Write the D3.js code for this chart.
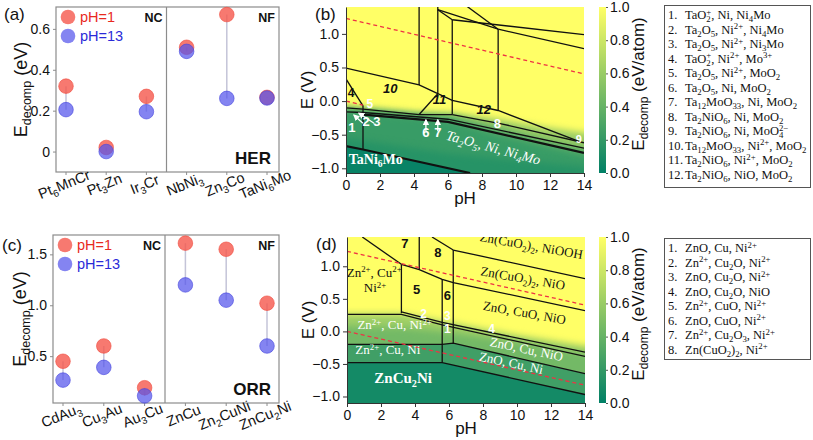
<!DOCTYPE html>
<html><head><meta charset="utf-8">
<script src="https://cdn.jsdelivr.net/npm/d3@7/dist/d3.min.js"></script>
<style>html,body{margin:0;padding:0;background:#fff;}svg{display:block;}</style>
</head><body>
<svg id="fig" width="813" height="440"></svg>
<script>
// ---------------- data ----------------
const herCats  = ["Pt_{6}MnCr","Pt_{3}Zn","Ir_{3}Cr","NbNi_{3}","Zn_{3}Co","TaNi_{6}Mo"];
const herPH1   = [0.32, 0.02, 0.27, 0.51, 0.67, 0.265];
const herPH13  = [0.205, 0.0, 0.195, 0.49, 0.26, 0.262];
const herTicks = [0, 0.2, 0.4, 0.6];

const orrCats  = ["CdAu_{3}","Cu_{3}Au","Au_{3}Cu","ZnCu","Zn_{2}CuNi","ZnCu_{2}Ni"];
const orrPH1   = [0.45, 0.60, 0.19, 1.61, 1.55, 1.02];
const orrPH13  = [0.265, 0.39, 0.11, 1.20, 1.05, 0.60];
const orrTicks = [0.5, 1.0, 1.5];

const pHTicks = [0,2,4,6,8,10,12,14];
const ETicks  = [-1,-0.5,0,0.5,1];
const cbTicks = [0,0.2,0.4,0.6,0.8,1.0];

// Pourbaix boundaries (pH, E) for TaNi6Mo
const herLines = [
  [[0,0.49],[4.3,0.24],[5.4,0.11],[6.25,0.01],[8.95,-0.14],[13.7,-0.6]],
  [[4.3,1.45],[4.3,0.24]],
  [[5.4,1.45],[5.4,0.11]],
  [[6.25,1.21],[6.25,-0.2]],
  [[8.95,1.07],[8.95,-0.14]],
  [[5.4,1.36],[6.25,1.21]],
  [[5.4,1.36],[8.95,1.07],[14,0.78]],
  [[6.9,1.45],[8.95,1.07]],
  [[6.25,1.21],[14,0.99]],
  [[4.3,-0.2],[5.4,0.11]],
  [[4.3,-0.2],[6.25,-0.2]],
  [[0,0.33],[1,-0.07]],
  [[1,-0.07],[1,-0.72]],
  [[0,-0.1],[1,-0.12],[4.3,-0.2]],
  [[6.25,-0.2],[9,-0.33],[14,-0.62]],
  [[0,-0.16],[1,-0.17],[6,-0.27],[14,-0.7]]
];
const herThick = [
  [[1,-0.2],[6,-0.31],[14,-0.77]],
  [[0,-0.67],[1,-0.72],[7.3,-1.07]]
];
const herDashed = [ [[0,1.23],[14,0.404]], [[0,0],[1,-0.059]] ];
const herBandEdges = [
  [[0,-0.08],[1,-0.1],[4.3,-0.17],[6.25,-0.18],[9,-0.27],[12,-0.4],[14,-0.47]],
  [[0,-0.11],[1,-0.13],[4.3,-0.2],[6.25,-0.22],[9,-0.4],[12,-0.6],[14,-0.7]],
  [[0,-0.14],[1,-0.16],[6,-0.28],[9,-0.5],[14,-0.8]],
  [[0,-0.55],[6,-0.78],[14,-0.98]],
  [[0,-0.67],[1,-0.72],[7.3,-1.07],[14,-1.45]]
];
const herBandVals = [0.6, 0.36, 0.22, 0.15, 0.03];
const herBandBlur = [true, true, true, true, false];

// Pourbaix boundaries for ZnCu2Ni
const orrLines = [
  [[0.9,1.45],[3.2,1.03]],
  [[3.2,1.03],[4.25,0.95],[5.6,0.8],[6.25,0.75],[14,0.32]],
  [[4.25,1.45],[4.25,0.95]],
  [[5.0,1.45],[6.25,1.25]],
  [[6.25,1.25],[14,0.81]],
  [[6.25,1.25],[6.25,-0.18]],
  [[3.2,1.03],[3.2,0.28]],
  [[5.6,0.8],[5.6,-0.48]],
  [[3.2,0.3],[5.6,0.14],[14,-0.32]],
  [[0,0.26],[3.2,0.26],[5.6,0.1],[14,-0.385]],
  [[0,-0.2],[5.6,-0.2],[6.25,-0.18],[14,-0.65]],
  [[0,-0.48],[5.6,-0.48],[14,-0.97]]
];
const orrDashed = [ [[0,1.23],[14,0.404]], [[0,0],[14,-0.826]] ];
const orrBandEdges = [
  [[0,0.27],[3.2,0.27],[5.6,0.16],[10,-0.06],[14,-0.22]],
  [[0,0.08],[3.2,0.06],[5.6,0.0],[10,-0.16],[14,-0.34]],
  [[0,-0.2],[5.6,-0.2],[6.25,-0.18],[14,-0.65]],
  [[0,-0.48],[5.6,-0.48],[14,-0.97]]
];
const orrBandVals = [0.62, 0.45, 0.25, 0.08];
const orrBandBlur = [true, true, false, false];

const herLegend = ["TaO_{2}^{+}, Ni, Ni_{4}Mo","Ta_{2}O_{5}, Ni^{2+}, Ni_{4}Mo","Ta_{2}O_{5}, Ni^{2+}, Ni_{3}Mo",
  "TaO_{2}^{+}, Ni^{2+}, Mo^{3+}","Ta_{2}O_{5}, Ni^{2+}, MoO_{2}","Ta_{2}O_{5}, Ni, MoO_{2}",
  "Ta_{12}MoO_{33}, Ni, MoO_{2}","Ta_{2}NiO_{6}, Ni, MoO_{2}","Ta_{2}NiO_{6}, Ni, MoO_{4}^{2−}",
  "Ta_{12}MoO_{33}, Ni^{2+}, MoO_{2}","Ta_{2}NiO_{6}, Ni^{2+}, MoO_{2}","Ta_{2}NiO_{6}, NiO, MoO_{2}"];
const orrLegend = ["ZnO, Cu, Ni^{2+}","Zn^{2+}, Cu_{2}O, Ni^{2+}","ZnO, Cu_{2}O, Ni^{2+}","ZnO, Cu_{2}O, NiO",
  "Zn^{2+}, CuO, Ni^{2+}","ZnO, CuO, Ni^{2+}","Zn^{2+}, Cu_{2}O_{3}, Ni^{2+}","Zn(CuO_{2})_{2}, Ni^{2+}"];

// annotations in (pH, E)
const herNotes = [
  {t:"10", p:[2.6,0.12], c:"#111", w:"bold", s:"italic", f:"sans", fs:13},
  {t:"11", p:[5.5,-0.04], c:"#111", w:"bold", s:"italic", f:"sans", fs:13},
  {t:"12", p:[8.1,-0.19], c:"#111", w:"bold", s:"italic", f:"sans", fs:13},
  {t:"4", p:[0.3,0.06], c:"#111", w:"bold", f:"sans", fs:12},
  {t:"5", p:[1.4,-0.1], c:"#fff", w:"bold", f:"sans", fs:12},
  {t:"1", p:[0.35,-0.46], c:"#fff", w:"bold", f:"sans", fs:13},
  {t:"2", p:[1.18,-0.37], c:"#fff", w:"bold", f:"sans", fs:13},
  {t:"3", p:[1.82,-0.37], c:"#fff", w:"bold", f:"sans", fs:13},
  {t:"6", p:[4.7,-0.54], c:"#fff", w:"bold", f:"sans", fs:13},
  {t:"7", p:[5.4,-0.54], c:"#fff", w:"bold", f:"sans", fs:13},
  {t:"8", p:[8.9,-0.4], c:"#fff", w:"bold", f:"sans", fs:13},
  {t:"9", p:[13.7,-0.63], c:"#fff", w:"bold", f:"sans", fs:11},
  {t:"TaNi_{6}Mo", p:[1.75,-0.93], c:"#fff", w:"bold", f:"serif", fs:14},
  {t:"Ta_{2}O_{5}, Ni, Ni_{4}Mo", p:[8.6,-0.76], c:"#fff", s:"italic", f:"serif", fs:14, r:15}
];
const herArrows = [
  [[1.0,-0.33],[0.47,-0.21]], [[1.65,-0.33],[0.76,-0.18]],
  [[4.7,-0.45],[4.7,-0.28]], [[5.4,-0.45],[5.4,-0.28]]
];
const orrNotes = [
  {t:"7", p:[3.4,1.28], c:"#111", w:"bold", f:"sans", fs:13},
  {t:"8", p:[5.35,1.15], c:"#111", w:"bold", f:"sans", fs:13},
  {t:"5", p:[4.1,0.58], c:"#111", w:"bold", f:"sans", fs:13},
  {t:"6", p:[5.9,0.48], c:"#111", w:"bold", f:"sans", fs:13},
  {t:"2", p:[4.5,0.2], c:"#fff", w:"bold", f:"sans", fs:12},
  {t:"3", p:[5.9,0.17], c:"#fff", w:"bold", f:"sans", fs:12},
  {t:"1", p:[5.9,-0.03], c:"#fff", w:"bold", f:"sans", fs:12},
  {t:"4", p:[8.5,-0.03], c:"#fff", w:"bold", f:"sans", fs:12},
  {t:"Zn^{2+}, Cu^{2+}", p:[1.6,0.84], c:"#111", f:"serif", fs:13},
  {t:"Ni^{2+}", p:[1.65,0.6], c:"#111", f:"serif", fs:13},
  {t:"Zn(CuO_{2})_{2}, NiOOH", p:[10.8,1.25], c:"#111", f:"serif", fs:13, r:10},
  {t:"Zn(CuO_{2})_{2}, NiO", p:[10.3,0.75], c:"#111", f:"serif", fs:13, r:10},
  {t:"ZnO, CuO, NiO", p:[10.4,0.22], c:"#111", f:"serif", fs:13, r:10},
  {t:"ZnO, Cu, NiO", p:[10.5,-0.34], c:"#fff", f:"serif", fs:13, r:12},
  {t:"ZnO, Cu, Ni", p:[9.6,-0.55], c:"#fff", f:"serif", fs:13, r:12},
  {t:"Zn^{2+}, Cu, Ni^{2+}", p:[2.8,0.03], c:"#fff", f:"serif", fs:13},
  {t:"Zn^{2+}, Cu, Ni", p:[2.4,-0.35], c:"#fff", f:"serif", fs:13},
  {t:"ZnCu_{2}Ni", p:[3.3,-0.8], c:"#fff", w:"bold", f:"serif", fs:15}
];

// ---------------- helpers ----------------
const SANS = '"Liberation Sans", Arial, Helvetica, sans-serif';
const SERIF = '"Liberation Serif", "DejaVu Serif", serif';
const summer = t => d3.rgb(255*t, 255*(0.5+t/2), 102).formatHex();
const svg = d3.select("#fig");
const defs = svg.append("defs");
const flt = defs.append("filter").attr("id","blur").attr("x","-20%").attr("y","-20%")
  .attr("width","140%").attr("height","140%").attr("color-interpolation-filters","sRGB");
flt.append("feGaussianBlur").attr("stdDeviation",3.5);
defs.append("marker").attr("id","arrw").attr("viewBox","0 0 10 10").attr("refX",8).attr("refY",5)
  .attr("markerWidth",5).attr("markerHeight",5).attr("orient","auto")
  .append("path").attr("d","M0,0 L10,5 L0,10 z").attr("fill","#fff");
const cbGrad = defs.append("linearGradient").attr("id","cbg").attr("x1",0).attr("y1",1).attr("x2",0).attr("y2",0);
d3.range(0,1.0001,0.1).forEach(t => cbGrad.append("stop").attr("offset",t).attr("stop-color",summer(t)));

function rich(sel, str, fs, sc) {
  sc = sc || 0.68;
  const parts = str.split(/(_\{[^}]*\}|\^\{[^}]*\})/).filter(s => s !== "");
  let cur = 0, lastSub = 0, wasSub = false;
  parts.forEach(p => {
    let kind = "n", s = p;
    if (p.startsWith("_{")) { kind = "sub"; s = p.slice(2,-1); }
    else if (p.startsWith("^{")) { kind = "sup"; s = p.slice(2,-1); }
    const target = kind === "sub" ? fs*0.25 : kind === "sup" ? -fs*0.36 : 0;
    const t = sel.append("tspan").text(s).attr("dy", target - cur);
    if (kind !== "n") t.attr("font-size", fs*sc);
    if (kind === "sup" && wasSub) t.attr("dx", -lastSub);
    cur = target;
    if (kind === "sub") { lastSub = t.node().getComputedTextLength(); wasSub = true; } else wasSub = false;
  });
}

// ---------------- scatter panels ----------------
function scatterPanel(o) {
  const g = svg.append("g");
  const x = d3.scalePoint().domain(d3.range(o.cats.length)).range([o.x0+10, o.x1-12]);
  const y = d3.scaleLinear().domain(o.ydom).range([o.y1, o.y0]);
  g.append("rect").attr("x",o.x0).attr("y",o.y0).attr("width",o.x1-o.x0).attr("height",o.y1-o.y0)
    .attr("fill","none").attr("stroke","#8c8c8c").attr("stroke-width",1.2);
  const xd = (x(2)+x(3))/2;
  g.append("line").attr("x1",xd).attr("x2",xd).attr("y1",o.y0).attr("y2",o.y1).attr("stroke","#8c8c8c").attr("stroke-width",1.2);
  const ya = g.append("g").attr("transform",`translate(${o.x0},0)`)
    .call(d3.axisLeft(y).tickValues(o.ticks).tickFormat(o.fmt).tickSize(3).tickPadding(3).tickSizeOuter(0));
  ya.select(".domain").remove();
  ya.selectAll("line").attr("stroke","#8c8c8c");
  ya.selectAll("text").attr("font-family",SANS).attr("font-size",14).attr("fill","#111");
  o.cats.forEach((c,i) => {
    g.append("line").attr("x1",x(i)).attr("x2",x(i)).attr("y1",o.y1).attr("y2",o.y1+3).attr("stroke","#8c8c8c");
    const t = g.append("text").attr("transform",`translate(${x(i)},${o.y1+17}) rotate(-22)`)
      .attr("text-anchor","middle").attr("font-family",SANS).attr("font-size",14.5).attr("fill","#111").attr("dy","0.35em");
    rich(t, c, 14.5);
  });
  o.a.forEach((v,i) => {
    g.append("line").attr("x1",x(i)).attr("x2",x(i)).attr("y1",y(v)).attr("y2",y(o.b[i]))
      .attr("stroke","#c4c4d8").attr("stroke-width",1.5);
  });
  g.selectAll(null).data(o.a).join("circle").attr("cx",(d,i)=>x(i)).attr("cy",d=>y(d)).attr("r",7.3)
    .attr("fill","#f5584c").attr("fill-opacity",0.8).attr("stroke","#f04a3c").attr("stroke-opacity",0.6);
  g.selectAll(null).data(o.b).join("circle").attr("cx",(d,i)=>x(i)).attr("cy",d=>y(d)).attr("r",7.3)
    .attr("fill","#5555ec").attr("fill-opacity",0.72).attr("stroke","#4444dd").attr("stroke-opacity",0.6);
  const lx = o.x0+12, ly = o.y0+10;
  g.append("circle").attr("cx",lx).attr("cy",ly).attr("r",7.3).attr("fill","#f5584c").attr("fill-opacity",0.8);
  g.append("circle").attr("cx",lx).attr("cy",ly+19).attr("r",7.3).attr("fill","#5555ec").attr("fill-opacity",0.72);
  g.append("text").attr("x",lx+12).attr("y",ly+5).text("pH=1").attr("font-family",SANS).attr("font-size",14.5).attr("fill","#e8291e");
  g.append("text").attr("x",lx+12).attr("y",ly+24).text("pH=13").attr("font-family",SANS).attr("font-size",14.5).attr("fill","#2a2ad8");
  g.append("text").attr("x",xd-4).attr("y",o.y0+15).attr("text-anchor","end").text("NC")
    .attr("font-family",SANS).attr("font-size",12.5).attr("font-weight","bold").attr("fill","#111");
  g.append("text").attr("x",o.x1-4).attr("y",o.y0+15).attr("text-anchor","end").text("NF")
    .attr("font-family",SANS).attr("font-size",12.5).attr("font-weight","bold").attr("fill","#111");
  g.append("text").attr("x",o.x1-8).attr("y",o.y1-8).attr("text-anchor","end").text(o.tag)
    .attr("font-family",SANS).attr("font-size",17).attr("font-weight","bold").attr("fill","#111");
  const yl = g.append("text").attr("transform",`translate(${o.ylx},${(o.y0+o.y1)/2}) rotate(-90)`)
    .attr("text-anchor","middle").attr("font-family",SANS).attr("fill","#111");
  yl.append("tspan").text("E").attr("font-size",18);
  yl.append("tspan").text("decomp").attr("font-size",12.5).attr("dy",3.5);
  yl.append("tspan").text(" (eV)").attr("font-size",18).attr("dy",-3.5);
  svg.append("text").attr("x",o.lblx).attr("y",o.lbly).text(o.lbl).attr("font-family",SANS).attr("font-size",17).attr("fill","#111");
}

scatterPanel({cats:herCats, a:herPH1, b:herPH13, ticks:herTicks, fmt:d=>d===0?"0":d3.format(".1f")(d),
  x0:56, x1:279, y0:7, y1:172, ydom:[-0.1,0.707], tag:"HER", ylx:27, lbl:"(a)", lblx:4, lbly:20});
scatterPanel({cats:orrCats, a:orrPH1, b:orrPH13, ticks:orrTicks, fmt:d3.format(".1f"),
  x0:53, x1:279, y0:235, y1:403, ydom:[0.04,1.69], tag:"ORR", ylx:26, lbl:"(c)", lblx:2, lbly:251});

// ---------------- phase panels ----------------
function phasePanel(o) {
  const x = d3.scaleLinear().domain([0,14]).range([o.x0,o.x1]);
  const y = d3.scaleLinear().domain(o.ydom).range([o.y1,o.y0]);
  defs.append("clipPath").attr("id","clip"+o.id).append("rect")
    .attr("x",o.x0).attr("y",o.y0).attr("width",o.x1-o.x0).attr("height",o.y1-o.y0);
  const g = svg.append("g").attr("clip-path",`url(#clip${o.id})`);
  g.append("rect").attr("x",o.x0).attr("y",o.y0).attr("width",o.x1-o.x0).attr("height",o.y1-o.y0).attr("fill",summer(1));
  const line = d3.line().x(d=>x(d[0])).y(d=>y(d[1]));
  o.bands.forEach((edge,i) => {
    const pts = [[-1.5,edge[0][1]], ...edge, [15.5,edge[edge.length-1][1]], [15.5,-4], [-1.5,-4]];
    g.append("path").attr("d", line(pts)+"Z").attr("fill", summer(o.vals[i]))
      .attr("filter", o.blur[i] ? "url(#blur)" : null);
  });
  o.lines.forEach(l => g.append("path").attr("d",line(l)).attr("fill","none").attr("stroke","#111").attr("stroke-width",1.3));
  (o.thick||[]).forEach(l => g.append("path").attr("d",line(l)).attr("fill","none").attr("stroke","#111").attr("stroke-width",2.2));
  o.dashed.forEach(l => g.append("path").attr("d",line(l)).attr("fill","none").attr("stroke","#ee3344")
    .attr("stroke-width",1.3).attr("stroke-dasharray","4,3"));
  (o.arrows||[]).forEach(a => g.append("path").attr("d",line(a)).attr("stroke","#fff").attr("stroke-width",1.3)
    .attr("marker-end","url(#arrw)"));
  o.notes.forEach(n => {
    const t = g.append("text").attr("text-anchor","middle").attr("dy","0.35em")
      .attr("transform",`translate(${x(n.p[0])},${y(n.p[1])}) rotate(${n.r||0})`)
      .attr("font-family", n.f==="serif"?SERIF:SANS).attr("font-size",n.fs).attr("fill",n.c)
      .attr("font-weight",n.w||"normal").attr("font-style",n.s||"normal");
    rich(t, n.t, n.fs);
  });
  const xa = svg.append("g").attr("transform",`translate(0,${o.y1})`)
    .call(d3.axisBottom(x).tickValues(pHTicks).tickSize(4).tickSizeOuter(0));
  const ya = svg.append("g").attr("transform",`translate(${o.x0},0)`)
    .call(d3.axisLeft(y).tickValues(ETicks).tickFormat(d3.format(".1f")).tickSize(4).tickSizeOuter(0));
  [xa,ya].forEach(a => {
    a.select(".domain").attr("stroke","#333");
    a.selectAll("line").attr("stroke","#333");
    a.selectAll("text").attr("font-family",SANS).attr("font-size",14).attr("fill","#111");
  });
  svg.append("text").attr("x",(o.x0+o.x1)/2).attr("y",o.y1+31).attr("text-anchor","middle").text("pH")
    .attr("font-family",SANS).attr("font-size",17).attr("fill","#111");
  svg.append("text").attr("transform",`translate(${o.x0-33},${(o.y0+o.y1)/2}) rotate(-90)`).attr("text-anchor","middle")
    .text("E (V)").attr("font-family",SANS).attr("font-size",17).attr("fill","#111");
  svg.append("text").attr("x",o.x0-31).attr("y",o.y0+13).text(o.lbl).attr("font-family",SANS).attr("font-size",17).attr("fill","#111");
  const cy = d3.scaleLinear().domain([0,1]).range([o.y1,o.y0]);
  svg.append("rect").attr("x",599).attr("y",o.y0).attr("width",7).attr("height",o.y1-o.y0).attr("fill","url(#cbg)");
  const ca = svg.append("g").attr("transform","translate(606,0)")
    .call(d3.axisRight(cy).tickValues(cbTicks).tickFormat(d3.format(".1f")).tickSize(2).tickPadding(2).tickSizeOuter(0));
  ca.select(".domain").remove();
  ca.selectAll("line").attr("stroke","#555");
  ca.selectAll("text").attr("font-family",SANS).attr("font-size",14).attr("fill","#111");
  const cl = svg.append("text").attr("transform",`translate(644,${(o.y0+o.y1)/2-6}) rotate(-90)`)
    .attr("text-anchor","middle").attr("font-family",SANS).attr("fill","#111");
  cl.append("tspan").text("E").attr("font-size",17);
  cl.append("tspan").text("decomp").attr("font-size",12).attr("dy",4);
  cl.append("tspan").text(" (eV/atom)").attr("font-size",17).attr("dy",-4);
  const lg = svg.append("g");
  lg.append("rect").attr("x",664.5).attr("y",o.ly0+0.5).attr("width",146).attr("height",o.lh)
    .attr("fill","#fff").attr("stroke","#555").attr("stroke-width",1);
  o.legend.forEach((s,i) => {
    const yy = o.ly0 + 10 + i*14.5 + 4;
    lg.append("text").attr("x",668).attr("y",yy).text((i+1)+".").attr("font-family",SERIF).attr("font-size",12.5).attr("fill","#111");
    const t = lg.append("text").attr("x",685).attr("y",yy).attr("font-family",SERIF).attr("font-size",12.5).attr("fill","#111");
    rich(t, s, 12.5, 0.7);
  });
}

phasePanel({id:"b", x0:346, x1:584, y0:7, y1:173, ydom:[-1.07,1.4], lines:herLines, thick:herThick,
  dashed:herDashed, bands:herBandEdges, vals:herBandVals, blur:herBandBlur, notes:herNotes, arrows:herArrows,
  lbl:"(b)", legend:herLegend, ly0:5, lh:182});
phasePanel({id:"d", x0:347, x1:585, y0:237, y1:403, ydom:[-1.1,1.45], lines:orrLines,
  dashed:orrDashed, bands:orrBandEdges, vals:orrBandVals, blur:orrBandBlur, notes:orrNotes,
  lbl:"(d)", legend:orrLegend, ly0:238, lh:121});
</script>
</body></html>
